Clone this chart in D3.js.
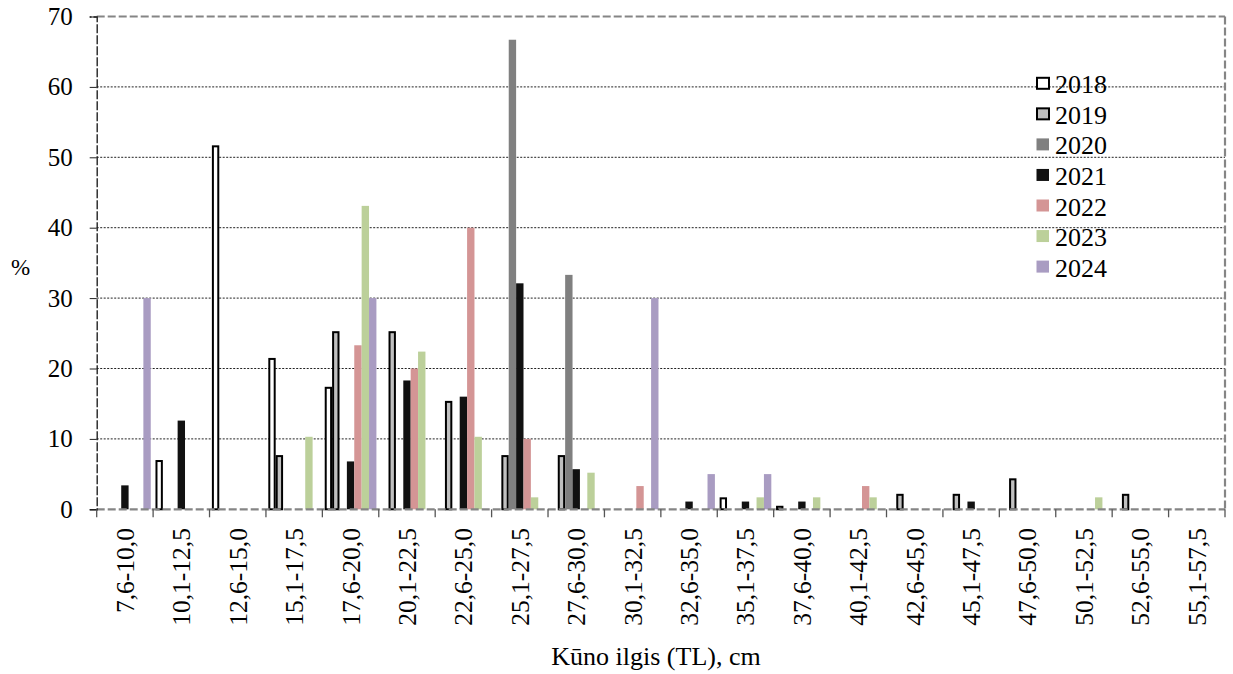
<!DOCTYPE html>
<html>
<head>
<meta charset="utf-8">
<script src="https://cdn.jsdelivr.net/npm/d3@7"></script>
<style>
  body { margin: 0; background: #fff; }
</style>
</head>
<body>
<div id="chart"></div>
<script>
const categories = ["7,6-10,0", "10,1-12,5", "12,6-15,0", "15,1-17,5", "17,6-20,0",
  "20,1-22,5", "22,6-25,0", "25,1-27,5", "27,6-30,0", "30,1-32,5", "32,6-35,0",
  "35,1-37,5", "37,6-40,0", "40,1-42,5", "42,6-45,0", "45,1-47,5", "47,6-50,0",
  "50,1-52,5", "52,6-55,0", "55,1-57,5"];
const years = ["2018", "2019", "2020", "2021", "2022", "2023", "2024"];

const v2018 = [0, 7.0, 51.7, 21.5, 17.4, 0, 0, 0, 0, 0, 0, 1.7, 0.5, 0, 0, 0, 0, 0, 0, 0];
const v2019 = [0, 0, 0, 7.7, 25.3, 25.3, 15.4, 7.7, 7.7, 0, 0, 0, 0, 0, 2.2, 2.2, 4.4, 0, 2.2, 0];
const v2020 = [0, 0, 0, 0, 0, 0, 0, 66.7, 33.3, 0, 0, 0, 0, 0, 0, 0, 0, 0, 0, 0];
const v2021 = [3.4, 12.6, 0, 0, 6.8, 18.3, 16.0, 32.1, 5.7, 0, 1.1, 1.1, 1.1, 0, 0, 1.1, 0, 0, 0, 0];
const v2022 = [0, 0, 0, 0, 23.3, 20.0, 40.0, 10.0, 0, 3.3, 0, 0, 0, 3.3, 0, 0, 0, 0, 0, 0];
const v2023 = [0, 0, 0, 10.3, 43.1, 22.4, 10.3, 1.7, 5.2, 0, 0, 1.7, 1.7, 1.7, 0, 0, 0, 1.7, 0, 0];
const v2024 = [30.0, 0, 0, 0, 30.0, 0, 0, 0, 0, 30.0, 5.0, 5.0, 0, 0, 0, 0, 0, 0, 0, 0];
const yTicks = [0, 10, 20, 30, 40, 50, 60, 70];

const seriesValues = [v2018, v2019, v2020, v2021, v2022, v2023, v2024];
const fills = ["#ffffff", "#c0c0c0", "#808080", "#111111", "#d49595", "#bcd09a", "#a99cc2"];
const outlined = [true, true, false, false, false, false, false];

const FONT = "'Liberation Serif', 'Times New Roman', serif";
const W = 1233, H = 674;
const plotL = 96.7, plotR = 1225, plotT = 16.5, plotB = 509.3;

const svg = d3.select("#chart").append("svg")
  .attr("width", W).attr("height", H)
  .style("font-family", FONT);

const x0 = d3.scaleBand().domain(categories).range([plotL, plotR]).padding(0);
const x1 = d3.scaleBand().domain(years).range([0, x0.bandwidth()])
  .paddingInner(0).paddingOuter(0.32);
const y = d3.scaleLinear().domain([0, 70]).range([plotB, plotT]);

// gridlines
svg.append("g").selectAll("line")
  .data(yTicks.filter(t => t > 0 && t < 70))
  .enter().append("line")
  .attr("x1", plotL).attr("x2", plotR)
  .attr("y1", d => y(d)).attr("y2", d => y(d))
  .attr("stroke", "#222").attr("stroke-width", 1)
  .attr("stroke-dasharray", "2,1.5");

// bars
const rows = [];
years.forEach((yr, si) => {
  categories.forEach((c, ci) => {
    const v = seriesValues[si][ci];
    if (v > 0) rows.push({ year: yr, si: si, cat: c, value: v });
  });
});

svg.append("g").selectAll("rect")
  .data(rows)
  .enter().append("rect")
  .attr("x", d => x0(d.cat) + x1(d.year) + (outlined[d.si] ? 1 : 0))
  .attr("width", d => x1.bandwidth() - (outlined[d.si] ? 2 : 0))
  .attr("y", d => y(d.value) + (outlined[d.si] ? 1 : 0))
  .attr("height", d => plotB - y(d.value) - (outlined[d.si] ? 1 : 0))
  .attr("fill", d => fills[d.si])
  .attr("stroke", d => outlined[d.si] ? "#000" : "none")
  .attr("stroke-width", 2);

// plot border (top, right, bottom dashed gray)
const border = svg.append("g")
  .attr("stroke", "#858585").attr("stroke-width", 2.2)
  .attr("stroke-dasharray", "8,3").attr("fill", "none");
border.append("line").attr("x1", plotL).attr("x2", plotR).attr("y1", plotT).attr("y2", plotT);
border.append("line").attr("x1", plotR).attr("x2", plotR).attr("y1", plotT).attr("y2", plotB);
border.append("line").attr("x1", plotL).attr("x2", plotR).attr("y1", plotB).attr("y2", plotB);

// y axis
const yAxis = svg.append("g")
  .attr("transform", `translate(${plotL},0)`)
  .call(d3.axisLeft(y).tickValues(yTicks).tickSize(7).tickPadding(17))
  .attr("font-family", null).attr("font-size", null);
yAxis.select(".domain").attr("stroke", "#222").attr("stroke-width", 1.4)
  .attr("stroke-dasharray", "9,2");
yAxis.selectAll(".tick line").attr("stroke", "#222");
yAxis.selectAll(".tick text")
  .style("font-family", FONT)
  .style("font-size", "25px").attr("fill", "#000");

// x axis ticks at category boundaries
svg.append("g").selectAll("line")
  .data(categories.map(c => x0(c)).concat([plotR]))
  .enter().append("line")
  .attr("x1", d => d).attr("x2", d => d)
  .attr("y1", plotB).attr("y2", plotB + 8)
  .attr("stroke", "#555").attr("stroke-width", 1.3);

// x labels
svg.append("g").selectAll("text")
  .data(categories)
  .enter().append("text")
  .attr("transform", d => `translate(${x0(d) + x0.bandwidth() / 2},528) rotate(-90)`)
  .attr("text-anchor", "end")
  .attr("dy", "0.35em")
  .style("font-family", FONT)
  .style("font-size", "25.5px")
  .text(d => d);

// axis titles
svg.append("text")
  .attr("x", 656).attr("y", 665)
  .attr("text-anchor", "middle")
  .style("font-family", FONT)
  .style("font-size", "26px")
  .text("Kūno ilgis (TL), cm");

svg.append("text")
  .attr("x", 11).attr("y", 275)
  .style("font-family", FONT)
  .style("font-size", "23px")
  .text("%");

// legend
const legend = svg.append("g").attr("transform", "translate(1036,83.3)");
const item = legend.selectAll("g")
  .data(years)
  .enter().append("g")
  .attr("transform", (d, i) => `translate(0,${i * 30.55})`);
item.append("rect")
  .attr("x", (d, i) => outlined[i] ? 1 : 0.5)
  .attr("y", (d, i) => outlined[i] ? -5.5 : -6)
  .attr("width", (d, i) => outlined[i] ? 12 : 12.5)
  .attr("height", (d, i) => outlined[i] ? 11 : 12)
  .attr("fill", (d, i) => fills[i])
  .attr("stroke", (d, i) => outlined[i] ? "#000" : "none")
  .attr("stroke-width", 2);
item.append("text")
  .attr("x", 19).attr("y", 10)
  .style("font-family", FONT)
  .style("font-size", "26px")
  .text(d => d);
</script>
</body>
</html>
